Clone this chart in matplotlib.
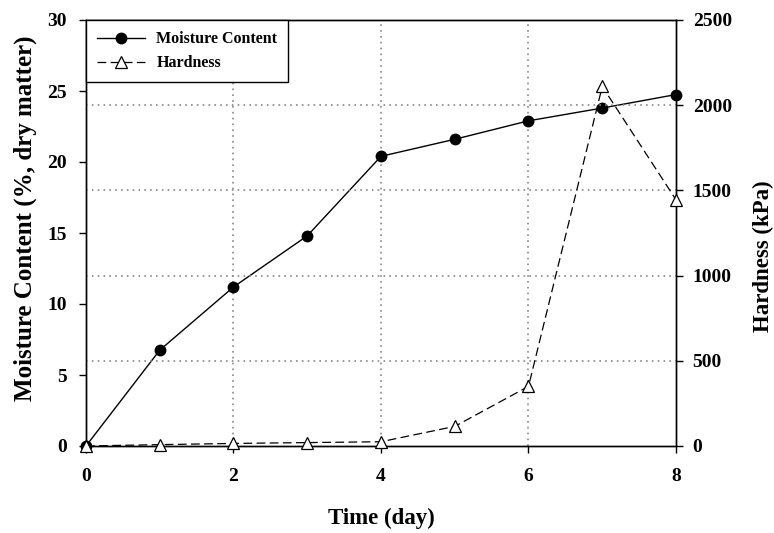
import matplotlib.pyplot as plt
from matplotlib.ticker import MultipleLocator

plt.rcParams['font.family'] = 'Liberation Serif'
plt.rcParams['font.weight'] = 'bold'

days = [0, 1, 2, 3, 4, 5, 6, 7, 8]
moisture = [0.0, 6.75, 11.2, 14.8, 20.4, 21.6, 22.9, 23.8, 24.75]
hardness = [0, 8, 15, 20, 25, 115, 350, 2110, 1445]

fig = plt.figure(figsize=(7.74, 5.33), dpi=100)
ax = fig.add_axes([86 / 774, 87 / 533, 590 / 774, 426 / 533])
ax2 = ax.twinx()

# moisture on the left axis
l1, = ax.plot(days, moisture, color='black', lw=1.0, marker='o', ms=7.5,
              mfc='black', mec='black', clip_on=False, zorder=3,
              label='Moisture Content')

# hardness on the right axis
l2, = ax2.plot(days, hardness, color='black', lw=0.9, dashes=(7, 3.5),
               marker='^', ms=8.5, mfc='white', mec='black', mew=0.9,
               clip_on=False, zorder=3, label='Hardness')

ax.set_xlim(0, 8)
ax.set_ylim(0, 30)
ax2.set_ylim(0, 2500)
ax.xaxis.set_major_locator(MultipleLocator(2))
ax.yaxis.set_major_locator(MultipleLocator(5))
ax2.yaxis.set_major_locator(MultipleLocator(500))

# dotted grid: verticals at day ticks, horizontals at the hardness ticks
for x in [2, 4, 6]:
    ax.axvline(x, color='#888888', ls=(0, (1, 2.5)), lw=1.2, zorder=1)
for h in [500, 1000, 1500, 2000]:
    ax2.axhline(h, color='#888888', ls=(0, (1, 2.5)), lw=1.2, zorder=1)

for a in (ax, ax2):
    a.tick_params(direction='out', length=5, width=1, labelsize=14)
    for s in a.spines.values():
        s.set_linewidth(1.0)
ax.tick_params(axis='x', pad=11)
ax.tick_params(axis='y', pad=9)
ax2.tick_params(axis='y', pad=7)

ax.set_xlabel('Time (day)', fontsize=16.5, fontweight='bold', labelpad=16)
ax.set_ylabel('Moisture Content (%, dry matter)', fontsize=18,
              fontweight='bold', labelpad=7)
ax2.set_ylabel('Hardness (kPa)', fontsize=16.5, fontweight='bold', labelpad=15)
ax.yaxis.label.set_y(0.535)
ax2.yaxis.label.set_y(0.445)

leg = ax2.legend([l1, l2], ['Moisture Content', 'Hardness'], loc='upper left',
                 bbox_to_anchor=(0, 1), borderaxespad=0, fancybox=False,
                 framealpha=1, edgecolor='black', fontsize=11.5,
                 handlelength=3.0, handletextpad=0.7, borderpad=0.7,
                 labelspacing=0.5)
leg.get_frame().set_linewidth(1.0)

fig.savefig('out.png', dpi=100)
